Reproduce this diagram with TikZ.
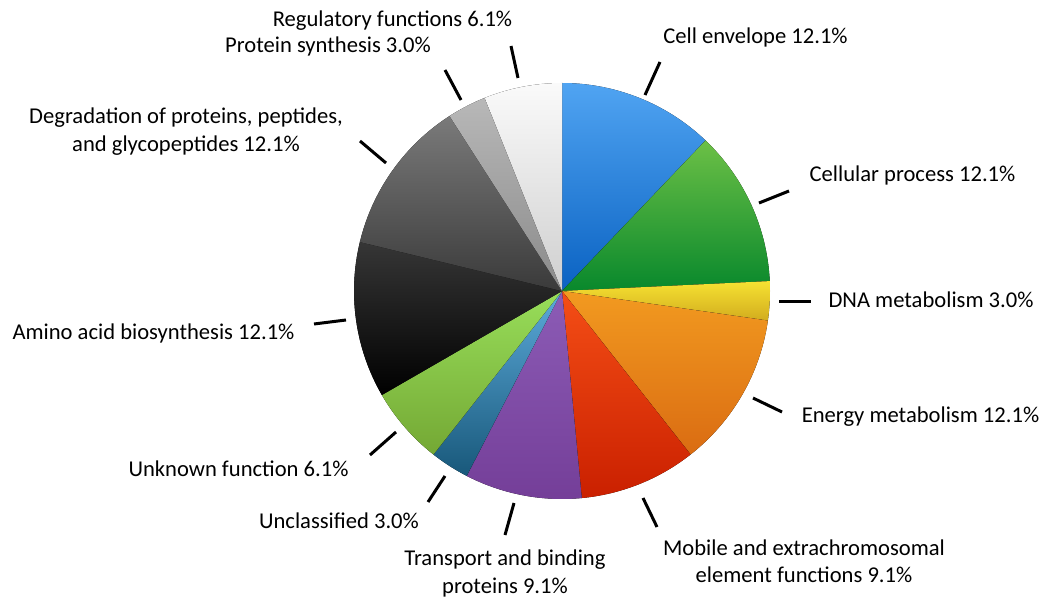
\documentclass[tikz,border=0pt]{standalone}
\usepackage{fontspec}
\setmainfont{Carlito}
\usetikzlibrary{calc}
\definecolor{blueT}{HTML}{50A4F2}\definecolor{blueB}{HTML}{0A62C2}
\definecolor{greenT}{HTML}{6CC046}\definecolor{greenB}{HTML}{08882C}
\definecolor{yelT}{HTML}{F6E232}\definecolor{yelB}{HTML}{D2AC1E}
\definecolor{oraT}{HTML}{F29A20}\definecolor{oraB}{HTML}{DA6C12}
\definecolor{redT}{HTML}{F44E16}\definecolor{redB}{HTML}{CA2000}
\definecolor{purT}{HTML}{8C5CB6}\definecolor{purB}{HTML}{743E98}
\definecolor{tealT}{HTML}{5CAADA}\definecolor{tealB}{HTML}{18587A}
\definecolor{lgrT}{HTML}{98DE5A}\definecolor{lgrB}{HTML}{74A834}
\definecolor{blkT}{HTML}{363636}\definecolor{blkB}{HTML}{000000}
\definecolor{dgrT}{HTML}{7A7A7A}\definecolor{dgrB}{HTML}{3A3A3A}
\definecolor{lgyT}{HTML}{B8B8B8}\definecolor{lgyB}{HTML}{8A8A8A}
\definecolor{whT}{HTML}{FAFAFA}\definecolor{whB}{HTML}{CFCFCF}
\tikzset{
  lbl/.style={font=\fontsize{22.6}{27.5}\selectfont, inner sep=0pt, align=center},
  leader/.style={line width=3pt, black},
}
\newcommand{\pieslice}[4]{%
  \fill[top color=#3, bottom color=#4] (C) -- ($(C)+(#1:208pt)$) arc[start angle=#1, end angle=#2, radius=208pt] -- cycle;}
\begin{document}
\begin{tikzpicture}[x=1pt,y=1pt]
\useasboundingbox (0,0) rectangle (1044,598);
\coordinate (C) at (562,307);
% slices (clockwise from top), 33 units, 10.909 deg each
\pieslice{90}{46.3636}{blueT}{blueB}
\pieslice{46.3636}{2.7273}{greenT}{greenB}
\pieslice{2.7273}{-8.1818}{yelT}{yelB}
\pieslice{-8.1818}{-51.8182}{oraT}{oraB}
\pieslice{-51.8182}{-84.5455}{redT}{redB}
\pieslice{-84.5455}{-117.2727}{purT}{purB}
\pieslice{-117.2727}{-128.1818}{tealT}{tealB}
\pieslice{-128.1818}{-150}{lgrT}{lgrB}
\pieslice{-150}{-193.6364}{blkT}{blkB}
\pieslice{-193.6364}{-237.2727}{dgrT}{dgrB}
\pieslice{-237.2727}{-248.1818}{lgyT}{lgyB}
\pieslice{-248.1818}{-270}{whT}{whB}
% labels
\node[lbl] (reg) at (392.5,577) {Regulatory functions 6.1\%};
\node[lbl] (pro) at (328,552) {Protein synthesis 3.0\%};
\node[lbl] (deg) at (186,466.5) {Degradation of proteins, peptides,\\and glycopeptides 12.1\%};
\node[lbl] (cel) at (755.5,561) {Cell envelope 12.1\%};
\node[lbl] (cpr) at (912.5,423) {Cellular process 12.1\%};
\node[lbl] (dna) at (931,298) {DNA metabolism 3.0\%};
\node[lbl] (ene) at (920.5,181) {Energy metabolism 12.1\%};
\node[lbl] (mob) at (804,37) {Mobile and extrachromosomal\\element functions 9.1\%};
\node[lbl] (tra) at (505,24.5) {Transport and binding\\proteins 9.1\%};
\node[lbl] (unc) at (339,77) {Unclassified 3.0\%};
\node[lbl] (unk) at (238.5,129) {Unknown function 6.1\%};
\node[lbl] (ami) at (153.5,265) {Amino acid biosynthesis 12.1\%};
% leader lines
\coordinate (reg1) at (518,520); \coordinate (reg2) at (511,552);
\coordinate (pro1) at (461,498); \coordinate (pro2) at (445,528);
\coordinate (deg1) at (386,435); \coordinate (deg2) at (360,457);
\coordinate (cel1) at (645,503); \coordinate (cel2) at (660,536);
\coordinate (cpr1) at (759,395); \coordinate (cpr2) at (789,407);
\coordinate (dna1) at (779,297); \coordinate (dna2) at (811,297);
\coordinate (ene1) at (753,200); \coordinate (ene2) at (782,186);
\coordinate (mob1) at (643,100); \coordinate (mob2) at (657,71);
\coordinate (tra1) at (514,95); \coordinate (tra2) at (505,63);
\coordinate (unc1) at (445,122); \coordinate (unc2) at (428,96);
\coordinate (unk1) at (396,166); \coordinate (unk2) at (370,143);
\coordinate (ami1) at (346,278); \coordinate (ami2) at (314,274);
\foreach \n in {reg,pro,deg,cel,cpr,dna,ene,mob,tra,unc,unk,ami}
  \draw[leader] (\n1) -- (\n2);
\end{tikzpicture}
\end{document}
